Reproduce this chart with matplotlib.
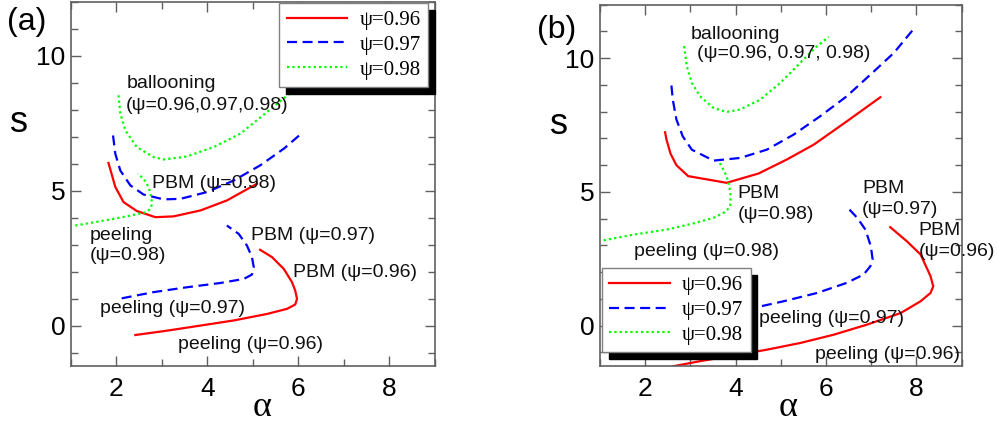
import matplotlib as mpl
mpl.use('Agg')

import matplotlib.pyplot as plt
from matplotlib.ticker import MultipleLocator

plt.rcParams['font.family'] = ['Liberation Sans', 'DejaVu Sans']

RED = '#ff0000'
BLUE = '#0000ff'
GREEN = '#00ff00'
SPINE = '#606060'

legend_labels = ['ψ=0.96', 'ψ=0.97', 'ψ=0.98']

# ---- panel (a) curves: (alpha, s) ----
a_red_up_x = [1.83, 1.98, 2.16, 2.45, 2.86, 3.26, 3.85, 4.43, 5.09]
a_red_up_y = [6.03, 5.14, 4.58, 4.25, 4.02, 4.05, 4.27, 4.64, 5.26]
a_red_lo_x = [2.42, 3.11, 3.85, 4.58, 5.31, 5.75, 5.93, 5.97, 5.93, 5.86, 5.68, 5.42, 5.16]
a_red_lo_y = [-0.35, -0.19, 0.0, 0.19, 0.43, 0.62, 0.78, 0.99, 1.30, 1.61, 2.10, 2.54, 2.81]
a_blue_up_x = [1.93, 1.98, 2.09, 2.31, 2.60, 3.04, 3.41, 3.99, 4.58, 5.16, 5.68, 6.08]
a_blue_up_y = [7.05, 6.37, 5.75, 5.20, 4.86, 4.68, 4.70, 4.95, 5.38, 5.94, 6.56, 7.14]
a_blue_lo_x = [2.12, 2.82, 3.55, 4.29, 4.80, 4.98, 5.02, 4.98, 4.87, 4.69, 4.43]
a_blue_lo_y = [1.01, 1.24, 1.42, 1.58, 1.73, 1.89, 2.17, 2.54, 2.97, 3.40, 3.71]
a_green_up_x = [2.05, 2.09, 2.20, 2.45, 2.82, 3.04, 3.55, 4.14, 4.73, 5.31, 5.90, 6.10]
a_green_up_y = [8.54, 7.86, 7.24, 6.62, 6.25, 6.16, 6.27, 6.62, 7.12, 7.92, 8.73, 9.00]
a_green_lo_x = [1.10, 1.65, 2.23, 2.67, 2.77, 2.78, 2.71, 2.60, 2.47]
a_green_lo_y = [3.71, 3.87, 4.05, 4.21, 4.37, 4.70, 5.14, 5.45, 5.63]

# ---- panel (b) curves ----
b_red_up_x = [2.44, 2.47, 2.56, 2.69, 2.95, 3.80, 4.51, 5.13, 5.73, 6.46, 7.20]
b_red_up_y = [7.23, 6.96, 6.43, 6.00, 5.59, 5.34, 5.69, 6.21, 6.77, 7.64, 8.54]
b_red_lo_x = [2.62, 3.21, 3.95, 4.69, 5.43, 6.17, 6.91, 7.65, 8.09, 8.31, 8.37, 8.31, 8.09, 7.79, 7.42]
b_red_lo_y = [-1.52, -1.33, -1.12, -0.90, -0.65, -0.34, 0.04, 0.47, 0.91, 1.22, 1.47, 1.85, 2.66, 3.15, 3.68]
b_blue_up_x = [2.58, 2.61, 2.69, 2.83, 3.03, 3.51, 4.10, 4.69, 5.28, 5.87, 6.46, 7.06, 7.50, 7.94]
b_blue_up_y = [8.98, 8.45, 7.71, 7.08, 6.58, 6.17, 6.27, 6.58, 7.14, 7.83, 8.58, 9.51, 10.20, 11.10]
b_blue_lo_x = [3.90, 4.39, 5.06, 5.80, 6.46, 6.83, 6.98, 7.03, 6.99, 6.87, 6.69, 6.46]
b_blue_lo_y = [0.58, 0.66, 0.91, 1.22, 1.60, 1.91, 2.22, 2.47, 2.97, 3.59, 4.03, 4.44]
b_green_up_x = [2.86, 2.92, 3.03, 3.21, 3.51, 3.80, 4.10, 4.54, 4.99, 5.43, 5.80, 6.06]
b_green_up_y = [10.45, 9.70, 9.08, 8.58, 8.14, 7.99, 8.08, 8.45, 9.08, 9.83, 10.45, 10.80]
b_green_lo_x = [1.08, 1.73, 2.47, 3.06, 3.51, 3.77, 3.88, 3.89, 3.86, 3.80, 3.69, 3.62]
b_green_lo_y = [3.19, 3.40, 3.59, 3.82, 4.03, 4.25, 4.46, 4.84, 5.21, 5.59, 5.96, 6.17]

# annotations: (x, y, text)
a_notes = [
    (2.22, 8.97, 'ballooning'),
    (2.22, 8.17, '(ψ=0.96,0.97,0.98)'),
    (2.78, 5.28, 'PBM (ψ=0.98)'),
    (1.41, 3.34, 'peeling'),
    (1.41, 2.60, '(ψ=0.98)'),
    (4.96, 3.34, 'PBM (ψ=0.97)'),
    (5.88, 1.98, 'PBM (ψ=0.96)'),
    (1.65, 0.62, 'peeling (ψ=0.97)'),
    (3.36, -0.71, 'peeling (ψ=0.96)'),
]
b_notes = [
    (3.01, 10.89, 'ballooning'),
    (3.14, 10.16, '(ψ=0.96, 0.97, 0.98)'),
    (4.04, 4.94, 'PBM'),
    (4.04, 4.15, '(ψ=0.98)'),
    (6.80, 5.11, 'PBM'),
    (6.80, 4.36, '(ψ=0.97)'),
    (8.05, 3.55, 'PBM'),
    (8.05, 2.78, '(ψ=0.96)'),
    (1.75, 2.78, 'peeling (ψ=0.98)'),
    (4.51, 0.25, 'peeling (ψ=0.97)'),
    (5.76, -1.08, 'peeling (ψ=0.96)'),
]

LW = 1.6
DASH = (4.5, 2.5)
DOT = (1.0, 1.4)


def draw_panel(ax, red, blue, green, notes):
    h1, = ax.plot(red[0], red[1], color=RED, lw=LW)
    ax.plot(red[2], red[3], color=RED, lw=LW)
    h2, = ax.plot(blue[0], blue[1], color=BLUE, lw=LW, dashes=DASH)
    ax.plot(blue[2], blue[3], color=BLUE, lw=LW, dashes=DASH)
    h3, = ax.plot(green[0], green[1], color=GREEN, lw=LW, dashes=DOT)
    ax.plot(green[2], green[3], color=GREEN, lw=LW, dashes=DOT)
    for x, y, t in notes:
        ax.text(x, y, t, fontsize=14, ha='left', va='center', color='#111111')
    ax.set_xlim(1, 9)
    ax.set_ylim(-1.5, 12)
    ax.xaxis.set_major_locator(MultipleLocator(2))
    ax.xaxis.set_minor_locator(MultipleLocator(1))
    ax.yaxis.set_major_locator(MultipleLocator(5))
    ax.yaxis.set_minor_locator(MultipleLocator(1))
    ax.tick_params(which='both', direction='in', top=True, right=True,
                   color=SPINE, width=1.0)
    ax.tick_params(which='major', length=7)
    ax.tick_params(which='minor', length=5)
    ax.tick_params(axis='x', labelsize=19, pad=8)
    ax.tick_params(axis='y', labelsize=19, pad=4)
    for sp in ax.spines.values():
        sp.set_color(SPINE)
        sp.set_linewidth(1.2)
    ax.set_xlabel('α', fontsize=26, family=['Liberation Serif', 'DejaVu Serif'])
    ax.set_ylabel('s', fontsize=26, rotation=0)
    return [h1, h2, h3]


fig = plt.figure(figsize=(9.97, 4.26), dpi=100)
ax_a = fig.add_axes([0.0709, 0.1408, 0.3654, 0.8545])
ax_b = fig.add_axes([0.6018, 0.1415, 0.3628, 0.8474])

hs = draw_panel(ax_a,
                (a_red_up_x, a_red_up_y, a_red_lo_x, a_red_lo_y),
                (a_blue_up_x, a_blue_up_y, a_blue_lo_x, a_blue_lo_y),
                (a_green_up_x, a_green_up_y, a_green_lo_x, a_green_lo_y),
                a_notes)
draw_panel(ax_b,
           (b_red_up_x, b_red_up_y, b_red_lo_x, b_red_lo_y),
           (b_blue_up_x, b_blue_up_y, b_blue_lo_x, b_blue_lo_y),
           (b_green_up_x, b_green_up_y, b_green_lo_x, b_green_lo_y),
           b_notes)

ax_a.xaxis.set_label_coords(0.525, -0.115)
ax_a.yaxis.set_label_coords(-0.142, 0.67)
ax_b.xaxis.set_label_coords(0.52, -0.117)
ax_b.yaxis.set_label_coords(-0.113, 0.667)
for ax in (ax_a, ax_b):
    ax.xaxis.label.set_va('center')
    ax.yaxis.label.set_va('center')
    ax.yaxis.label.set_ha('center')

leg_kw = dict(prop={'family': 'Liberation Serif', 'size': 15}, fancybox=False,
              framealpha=1, edgecolor='#808080', handlelength=2.9,
              handletextpad=0.6, labelspacing=0.25, borderpad=0.35,
              borderaxespad=0,
              shadow={'ox': 5, 'oy': -5, 'color': 'black', 'alpha': 1})
leg = ax_a.legend(hs, legend_labels, loc='upper right',
                  bbox_to_anchor=(0.981, 0.997), **leg_kw)
leg.set_zorder(5)
leg = ax_b.legend(hs, legend_labels, loc='lower left',
                  bbox_to_anchor=(0.005, 0.038), **leg_kw)
leg.set_zorder(5)

fig.text(0.007, 1 - 22 / 426, '(a)', fontsize=23, ha='left', va='center')
fig.text(537 / 997, 1 - 30 / 426, '(b)', fontsize=23, ha='left', va='center')

fig.savefig('out.png', dpi=100)
